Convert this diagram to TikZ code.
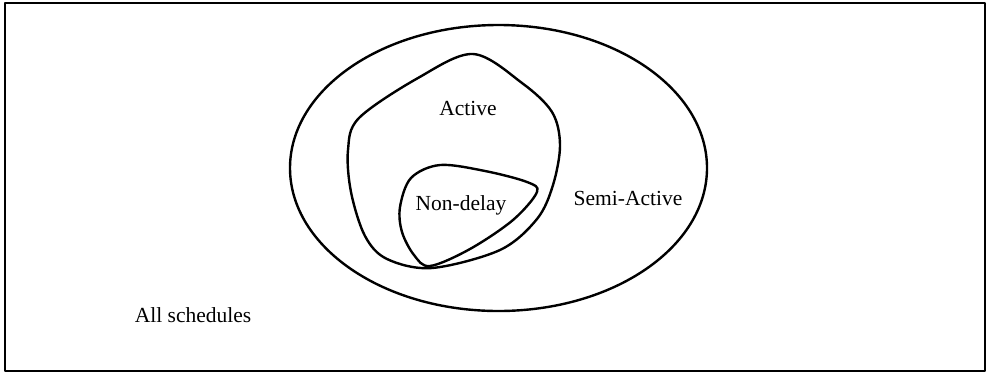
\documentclass[tikz,border=0pt]{standalone}
\usepackage{fontspec}
\setmainfont{Liberation Serif}
\begin{document}
\begin{tikzpicture}[x=1pt,y=-1pt,
  outline/.style={line width=2.4pt,line join=round},
  setlabel/.style={anchor=base,inner sep=0pt,font=\fontsize{21.5}{24}\selectfont}]
\useasboundingbox (0,0) rectangle (987,373);
% frame holding all schedules
\draw[outline] (5,3) rectangle (985,371);
% semi-active schedules
\draw[outline] (498.5,168) ellipse [x radius=208.5, y radius=143];
% active schedules
\draw[outline] plot[smooth cycle,tension=0.55] coordinates {
  (473,54) (522,83) (552,112) (560,145) (553,185) (537,219)
  (500,250) (432,268) (387,259) (365,236) (351,192) (348,150)
  (359,118) (418,78)};
% non-delay schedules
\draw[outline] plot[smooth cycle,tension=0.55] coordinates {
  (440,165) (485,171) (527,182) (537,192) (513,220) (470,249)
  (430,266) (414,255) (402,232) (400,207) (411,178)};
\node[setlabel] (active) at (468,115) {Active};
\node[setlabel] (nondelay) at (461,210) {Non-delay};
\node[setlabel] (semiactive) at (628,205) {Semi-Active};
\node[setlabel] (all) at (193,322) {All schedules};
\end{tikzpicture}
\end{document}
